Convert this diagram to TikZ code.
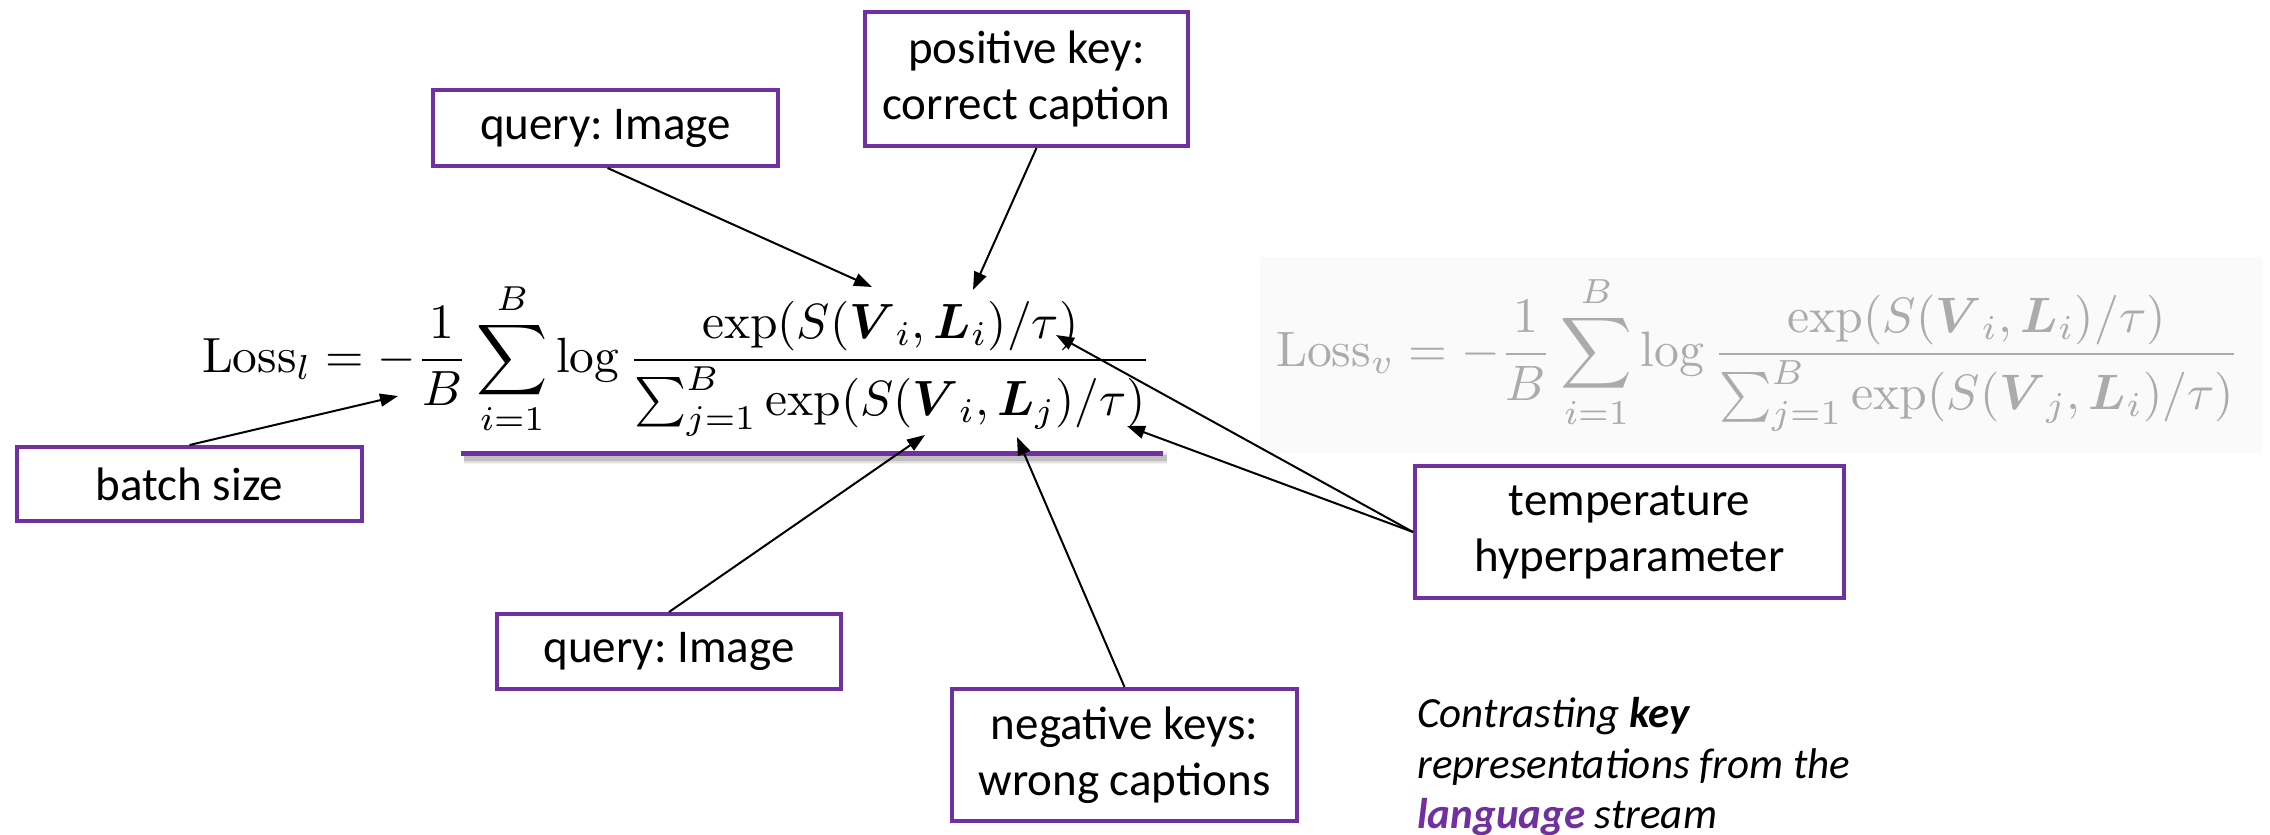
\documentclass[tikz,border=0pt]{standalone}
\usepackage[no-math]{fontspec}
\usepackage{bm}
\usetikzlibrary{arrows.meta}
\setmainfont{Carlito}
\frenchspacing
\definecolor{pptpurple}{RGB}{112,48,160}
\tikzset{
  labelbox/.style={draw=pptpurple, line width=2pt, fill=white, align=center,
    inner sep=0pt, font=\fontsize{23.5}{28}\selectfont},
  ptr/.style={draw=black, line width=1pt, -{Triangle[length=9pt,width=6.5pt]}},
  captext/.style={anchor=base west, inner sep=0pt,
    font=\fontsize{21.5}{25}\selectfont\itshape},
  eqnode/.style={anchor=base west, inner sep=0pt, outer sep=0pt}
}
\begin{document}
\begin{tikzpicture}[x=0.5pt,y=-0.5pt]
\fill[white] (0,0) rectangle (2270,835);
\useasboundingbox (0,0) rectangle (2270,835);

% faded panel holding the vision-side loss
\fill[black!2] (1260,257) rectangle (2262,453);

% language-side loss
\node[eqnode] (lossl) at (202,372) {\resizebox{475pt}{!}{$\displaystyle
  \mathrm{Loss}_l = -\frac{1}{B}\sum_{i=1}^{B}\log
  \frac{\exp(S(\bm{V}{}_i,\bm{L}_i)/\tau)}{\sum_{j=1}^{B}\exp(S(\bm{V}{}_i,\bm{L}_j)/\tau)}$}};

% vision-side loss, greyed out
\node[eqnode, text=black!33] (lossv) at (1276,366) {\resizebox{482pt}{!}{$\displaystyle
  \mathrm{Loss}_v = -\frac{1}{B}\sum_{i=1}^{B}\log
  \frac{\exp(S(\bm{V}{}_i,\bm{L}_i)/\tau)}{\sum_{j=1}^{B}\exp(S(\bm{V}{}_j,\bm{L}_i)/\tau)}$}};

% purple underline with a soft shadow
\foreach \w/\o in {6pt/0.05, 4.5pt/0.08, 3pt/0.14}
  \draw[line width=\w, black, opacity=\o] (464,458) -- (1167,458);
\draw[pptpurple, line width=2.5pt] (461,453) -- (1163,453);

% annotation boxes
\node[labelbox, minimum width=172.5pt, minimum height=38pt] (q1) at (605.5,128) {query: Image};
\node[labelbox, minimum width=161.5pt, minimum height=67pt] (pos) at (1026.5,79) {positive key:\\correct caption};
\node[labelbox, minimum width=172.5pt, minimum height=37pt] (batch) at (189.5,484) {batch size};
\node[labelbox, minimum width=172pt, minimum height=37.5pt] (q2) at (669,651.5) {query: Image};
\node[labelbox, minimum width=172.5pt, minimum height=66pt] (neg) at (1124.5,755) {negative keys:\\wrong captions};
\node[labelbox, minimum width=214.5pt, minimum height=66pt] (temp) at (1629.5,532) {temperature\\hyperparameter};

% targets inside the formula
\coordinate (tipVi) at (872,287);
\coordinate (tipLi) at (973,290);
\coordinate (tipB) at (398,396);
\coordinate (tipVden) at (925,435);
\coordinate (tipLj) at (1017,437);
\coordinate (tipTauNum) at (1056,335);
\coordinate (tipTauDen) at (1127,426);

% pointers
\draw[ptr] ([xshift=1pt]q1.south) -- (tipVi);
\draw[ptr] ([xshift=5pt]pos.south) -- (tipLi);
\draw[ptr] (batch.north) -- (tipB);
\draw[ptr] (q2.north) -- (tipVden);
\draw[ptr] (neg.north) -- (tipLj);
\draw[ptr] (temp.west) -- (tipTauNum);
\draw[ptr] (temp.west) -- (tipTauDen);

% side note
\node[captext] (cap1) at (1417,727) {Contrasting \textbf{key}};
\node[captext] (cap2) at (1417,778) {representations from the};
\node[captext] (cap3) at (1417,828) {\textcolor{pptpurple}{\textbf{language}} stream};
\end{tikzpicture}
\end{document}
